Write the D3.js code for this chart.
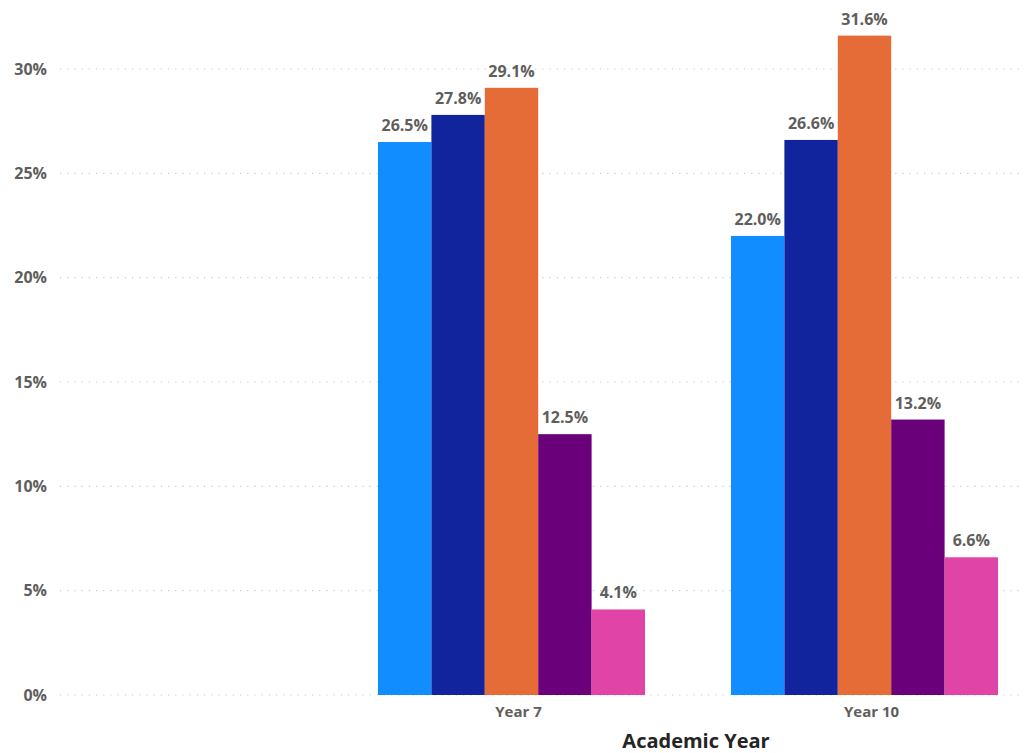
<!DOCTYPE html>
<html>
<head>
<meta charset="utf-8">
<script src="https://cdn.jsdelivr.net/npm/d3@7"></script>
<style>
  body { margin: 0; background: #fff; }
  text { font-family: "Open Sans", "Noto Sans", sans-serif; }
</style>
</head>
<body>
<div id="my_dataviz"></div>
<script>
// data
const categories = ["Year 7", "Year 10"];
const seriesNames = ["s1", "s2", "s3", "s4", "s5"];
const year7Values = [26.5, 27.8, 29.1, 12.5, 4.1];
const year10Values = [22.0, 26.6, 31.6, 13.2, 6.6];
const yTicks = [0, 5, 10, 15, 20, 25, 30];
const colors = ["#118DFF", "#12239E", "#E66C37", "#6B007B", "#E044A7"];

const values = [year7Values, year10Values];
const data = categories.map(function(c, i) {
    return { name: c, values: values[i] };
});

const width = 1025, height = 753;

const svg = d3.select("#my_dataviz")
    .append("svg")
    .attr("width", width)
    .attr("height", height);

// first slot of the axis is an empty category, as in the original
const x0 = d3.scaleBand()
    .domain([""].concat(categories))
    .range([25, 998])
    .paddingInner(0.2436)
    .paddingOuter(0);

const x1 = d3.scaleBand()
    .domain(seriesNames)
    .range([0, x0.bandwidth()])
    .padding(0);

const y = d3.scaleLinear()
    .domain([0, 30])
    .range([695, 69]);

// gridlines
svg.append("g")
    .selectAll("line")
    .data(yTicks)
    .enter()
    .append("line")
    .attr("x1", 60)
    .attr("x2", 1020)
    .attr("y1", function(d) { return y(d); })
    .attr("y2", function(d) { return y(d); })
    .attr("stroke", "#c8c8c8")
    .attr("stroke-width", 1.2)
    .attr("stroke-dasharray", "1.2,6");

// y axis labels
const yAxis = svg.append("g")
    .attr("transform", "translate(47,0)")
    .call(d3.axisLeft(y).tickValues(yTicks).tickSize(0).tickPadding(0)
        .tickFormat(function(d) { return d + "%"; }));
yAxis.select(".domain").remove();
yAxis.selectAll("text")
    .attr("fill", "#605E5C")
    .attr("font-size", "16px")
    .attr("font-weight", "bold")
    .style("font-family", "'Open Sans', sans-serif");

// x axis labels
const xAxis = svg.append("g")
    .attr("transform", "translate(7,700)")
    .call(d3.axisBottom(x0).tickSize(0).tickPadding(6));
xAxis.select(".domain").remove();
xAxis.selectAll("text")
    .attr("fill", "#605E5C")
    .attr("font-size", "15px")
    .attr("font-weight", "bold")
    .style("font-family", "'Open Sans', sans-serif");

svg.append("text")
    .attr("x", 696)
    .attr("y", 748)
    .attr("text-anchor", "middle")
    .attr("fill", "#252423")
    .attr("font-size", "20px")
    .attr("font-weight", "bold")
    .text("Academic Year");

// bars
const groups = svg.selectAll(".group")
    .data(data)
    .enter()
    .append("g")
    .attr("class", "group")
    .attr("transform", function(d) { return "translate(" + x0(d.name) + ",0)"; });

const cells = groups.selectAll(".cell")
    .data(function(d) {
        return d.values.map(function(v, i) { return { key: seriesNames[i], value: v, idx: i }; });
    })
    .enter()
    .append("g")
    .attr("class", "cell");

cells.append("rect")
    .attr("x", function(d) { return x1(d.key); })
    .attr("y", function(d) { return y(d.value); })
    .attr("width", x1.bandwidth())
    .attr("height", function(d) { return y(0) - y(d.value); })
    .attr("fill", function(d) { return colors[d.idx]; });

cells.append("text")
    .attr("x", function(d) { return x1(d.key) + x1.bandwidth() / 2; })
    .attr("y", function(d) { return y(d.value) - 11; })
    .attr("text-anchor", "middle")
    .attr("fill", "#605E5C")
    .attr("font-size", "16px")
    .attr("font-weight", "bold")
    .text(function(d) { return d.value.toFixed(1) + "%"; });
</script>
</body>
</html>
